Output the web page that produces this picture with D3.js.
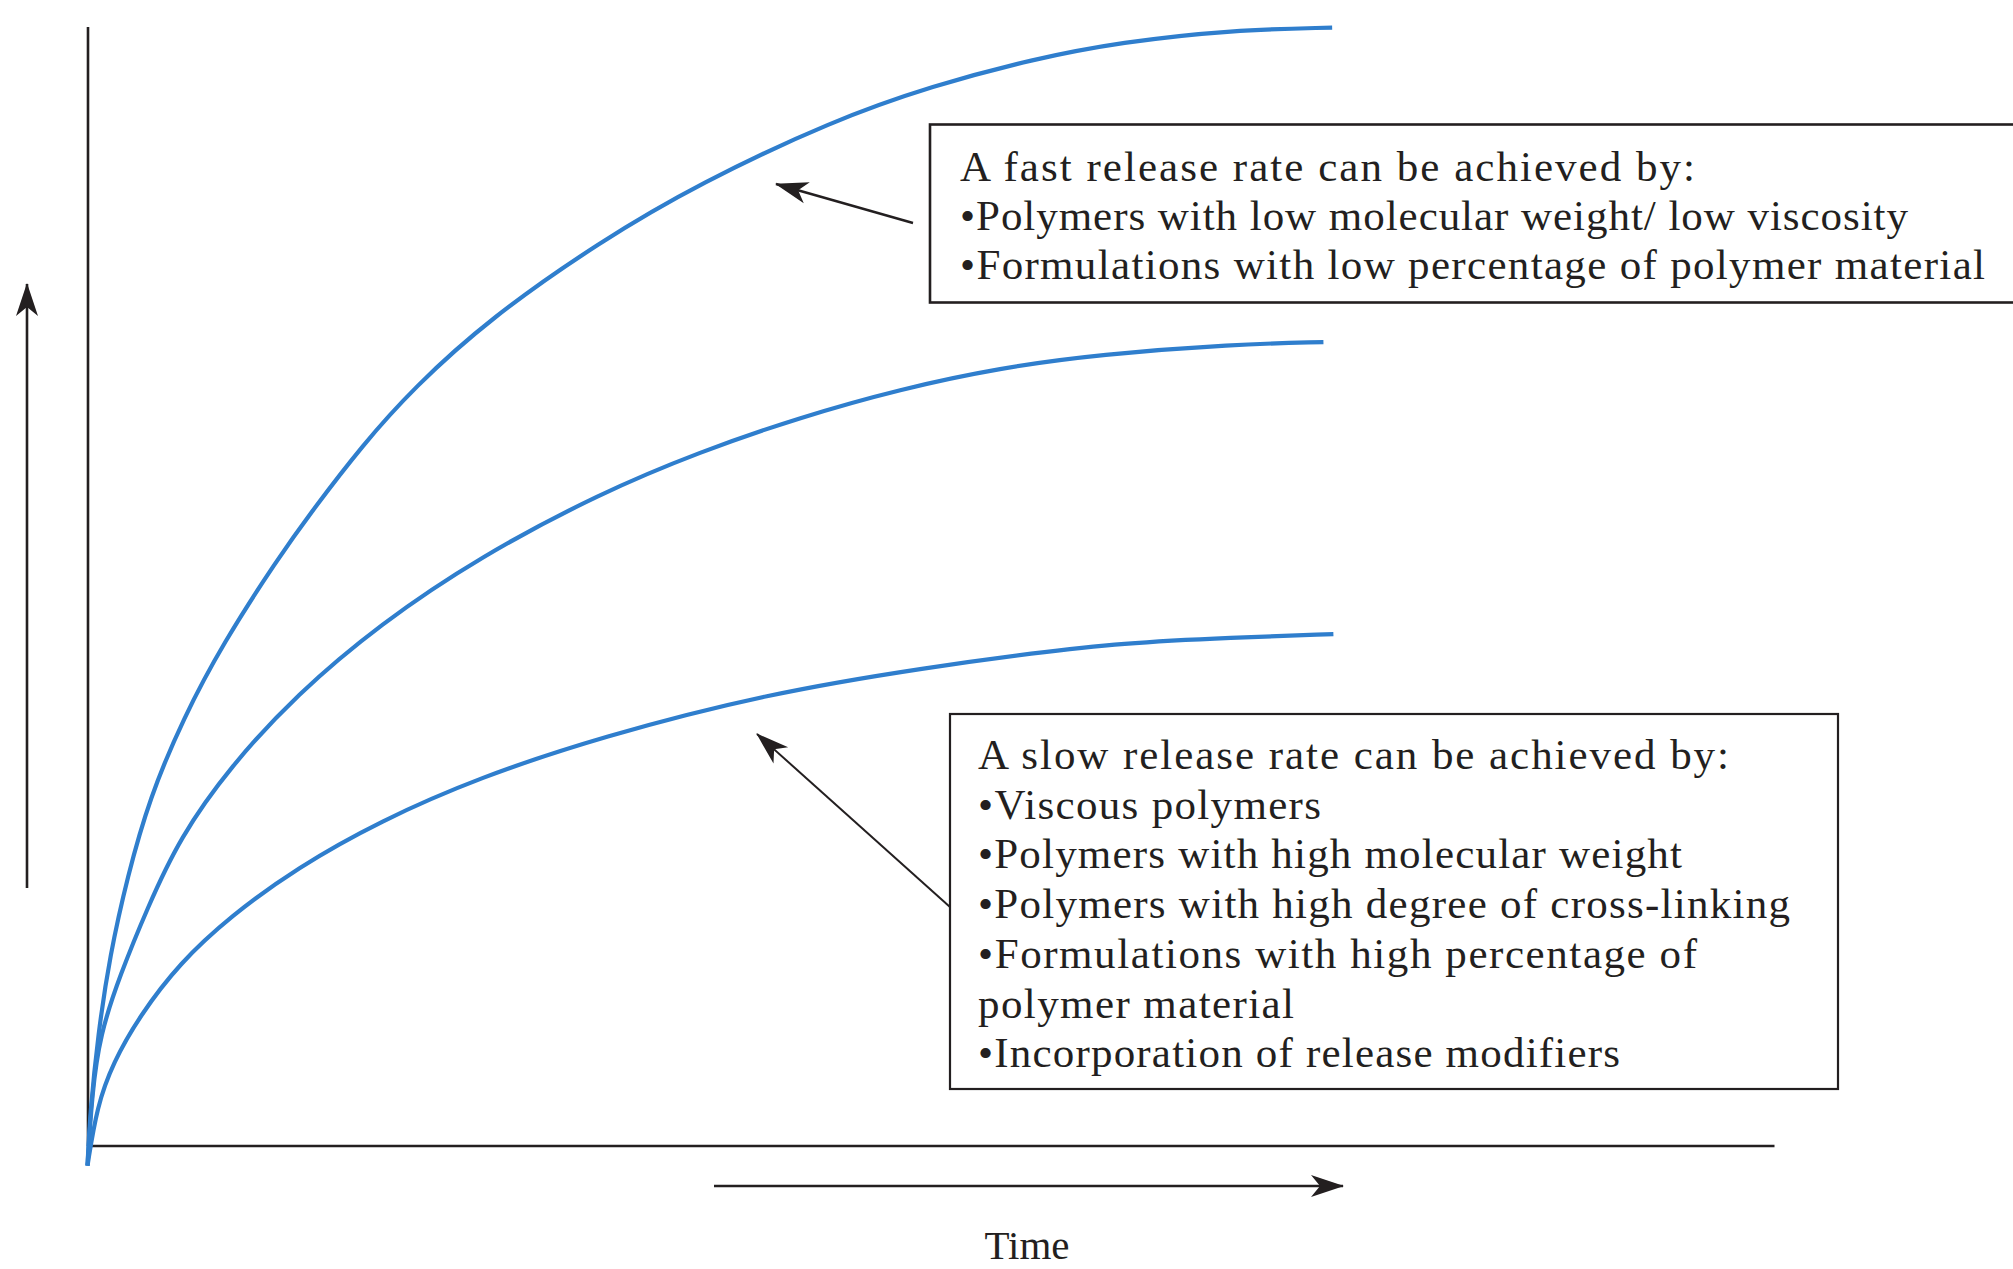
<!DOCTYPE html>
<html>
<head>
<meta charset="utf-8">
<script src="https://cdn.jsdelivr.net/npm/d3@7"></script>
<style>
    body { margin: 0; background: #ffffff; }
    svg { display: block; }
    text { font-family: "Liberation Serif", "Times New Roman", serif; fill: #231f20; }
</style>
</head>
<body>
<div class="data_figure"></div>
<script>
// release curves (time, amount released)
const fastTime     = [0, 0.2, 0.84, 1.8, 3.2, 5.0, 7.7, 10.9, 15.2, 18.1, 22.1, 26.2, 32.3, 41.2, 49.2, 59.9, 67.9, 76.0, 83.0, 92.0, 100];
const fastRelease  = [-1.8, 2.8, 9.9, 17.0, 24.0, 31.1, 38.2, 44.9, 52.3, 56.8, 62.6, 67.7, 73.9, 80.8, 86.0, 91.6, 94.7, 97.1, 98.6, 99.7, 99.9];
const mediumTime    = [0, 0.36, 1.0, 2.6, 4.8, 7.4, 11.5, 16.8, 23.5, 31.5, 41.2, 49.2, 57.3, 65.3, 73.3, 81.4, 92.0, 99.3];
const mediumRelease = [-1.8, 4.6, 9.9, 15.2, 21.2, 27.5, 33.9, 40.3, 46.6, 52.6, 58.3, 62.0, 65.1, 67.6, 69.5, 70.7, 71.6, 71.8];
const slowTime     = [0, 0.76, 2.05, 4.2, 7.4, 11.5, 16.8, 23.5, 31.5, 41.2, 54.6, 67.9, 76.0, 83.0, 92.0, 100.1];
const slowRelease  = [-1.8, 3.5, 7.4, 11.6, 16.3, 20.5, 24.8, 29.0, 32.9, 36.5, 40.4, 42.8, 44.0, 44.9, 45.4, 45.7];

const fastLines = [
    "A fast release rate can be achieved by:",
    "•Polymers with low molecular weight/ low viscosity",
    "•Formulations with low percentage of polymer material",
];
const fastWidths = [735, 948, 1025];
const slowLines = [
    "A slow release rate can be achieved by:",
    "•Viscous polymers",
    "•Polymers with high molecular weight",
    "•Polymers with high degree of cross-linking",
    "•Formulations with high percentage of",
    "polymer material",
    "•Incorporation of release modifiers",
];
const slowWidths = [751, 343, 704, 812, 719, 316, 642];
const xLabel = "Time";

const widthMax = 2013;
const heightMax = 1269;
const ink = "#231f20";
const blue = "#2f7ecd";

const svg = d3.select(".data_figure")
    .append("svg")
    .attr("width", widthMax)
    .attr("height", heightMax);

svg.append("rect").attr("width", widthMax).attr("height", heightMax).attr("fill", "#fff");

const xScale = d3.scaleLinear().domain([0, 135.5]).range([87.5, 1774]);
const yScale = d3.scaleLinear().domain([0, 100]).range([1145.5, 26.5]);

// arrow head
svg.append("defs").append("marker")
    .attr("id", "head")
    .attr("markerUnits", "userSpaceOnUse")
    .attr("viewBox", "-34 -13 36 26")
    .attr("refX", 0).attr("refY", 0)
    .attr("markerWidth", 36).attr("markerHeight", 26)
    .attr("orient", "auto")
    .append("path")
    .attr("d", "M1,0 L-32,-11 L-23,0 L-32,11 Z")
    .attr("fill", ink);

// axes without ticks
svg.append("g")
    .attr("transform", "translate(0," + yScale(0) + ")")
    .call(d3.axisBottom(xScale).tickValues([]).tickSizeOuter(0))
    .select(".domain").attr("stroke", ink).attr("stroke-width", 2.6);
svg.append("g")
    .attr("transform", "translate(" + xScale(0) + ",0)")
    .call(d3.axisLeft(yScale).tickValues([]).tickSizeOuter(0))
    .select(".domain").attr("stroke", ink).attr("stroke-width", 2.6);

// direction arrows
function arrow(x1, y1, x2, y2, w) {
    svg.append("line")
        .attr("x1", x1).attr("y1", y1).attr("x2", x2).attr("y2", y2)
        .attr("stroke", ink).attr("stroke-width", w)
        .attr("marker-end", "url(#head)");
}
arrow(27, 888, 27, 284, 2.6);
arrow(714, 1186, 1343, 1186, 2.6);
arrow(913, 223, 776, 184, 2.4);
arrow(950, 907, 757, 734, 2);

svg.append("text")
    .text(xLabel)
    .attr("x", 1027)
    .attr("y", 1259)
    .attr("text-anchor", "middle")
    .style("font-size", "41px");

// curves
const line = d3.line()
    .x(d => xScale(d[0]))
    .y(d => yScale(d[1]))
    .curve(d3.curveBasis);

[[fastTime, fastRelease], [mediumTime, mediumRelease], [slowTime, slowRelease]].forEach(([t, r]) => {
    svg.append("path")
        .datum(t.map((v, i) => [v, r[i]]))
        .attr("d", line)
        .attr("fill", "none")
        .attr("stroke", blue)
        .attr("stroke-width", 4.2);
});

// annotation boxes
function textBox(x, y, w, h, lines, widths, tx, ty0, dy, sw) {
    svg.append("rect")
        .attr("x", x).attr("y", y).attr("width", w).attr("height", h)
        .attr("fill", "#fff").attr("stroke", ink).attr("stroke-width", sw);
    svg.selectAll(null)
        .data(lines)
        .enter()
        .append("text")
        .text(d => d)
        .attr("x", tx)
        .attr("y", (d, i) => ty0 + i * dy)
        .attr("textLength", (d, i) => widths[i])
        .attr("lengthAdjust", "spacing")
        .style("font-size", "43px");
}
textBox(930, 124.5, 1100, 178, fastLines, fastWidths, 960, 181, 49, 2.6);
textBox(950, 714, 888, 375, slowLines, slowWidths, 978, 769, 49.7, 2.2);
</script>
</body>
</html>
